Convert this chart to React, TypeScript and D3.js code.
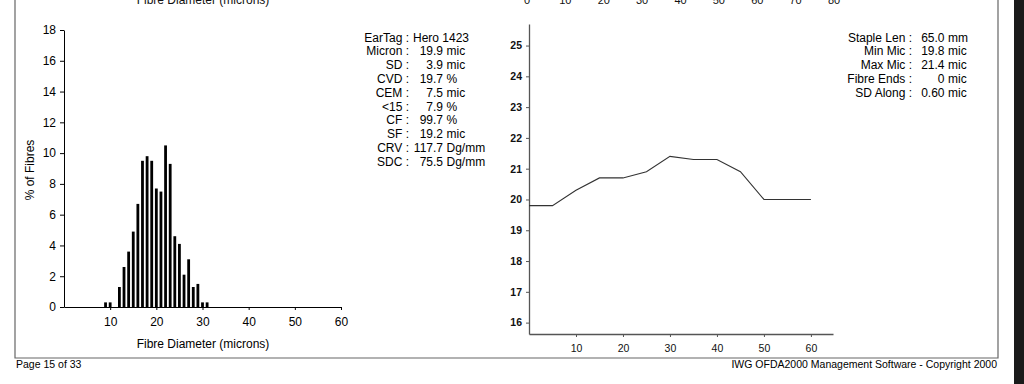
import { useEffect, useRef } from "react"
import * as d3 from "d3"

// histogram: % of fibres per micron class
const diameters = [9, 10, 12, 13, 14, 15, 16, 17, 18, 19, 20, 21, 22, 23, 24, 25, 26, 27, 28, 29, 30, 31]
const percentFibres = [0.3, 0.3, 1.3, 2.6, 3.6, 4.9, 6.7, 9.5, 9.8, 9.5, 7.7, 7.5, 10.5, 9.3, 4.6, 4.1, 2.1, 3.1, 1.3, 1.5, 0.3, 0.3]
const histXTicks = [10, 20, 30, 40, 50, 60]
const histYTicks = [0, 2, 4, 6, 8, 10, 12, 14, 16, 18]

// profile along the staple
const positions = [0, 5, 10, 15, 20, 25, 30, 35, 40, 45, 50, 55, 60]
const micronAlong = [19.8, 19.8, 20.3, 20.7, 20.7, 20.9, 21.4, 21.3, 21.3, 20.9, 20.0, 20.0, 20.0]
const lineXTicks = [10, 20, 30, 40, 50, 60]
const lineYTicks = [16, 17, 18, 19, 20, 21, 22, 23, 24, 25]

// tick labels of the chart cut off at the top of the page
const prevXTicks = [0, 10, 20, 30, 40, 50, 60, 70, 80]

const statLabels = ["EarTag", "Micron", "SD", "CVD", "CEM", "<15", "CF", "SF", "CRV", "SDC"]
const statNumbers = ["Hero 1423", "19.9", "3.9", "19.7", "7.5", "7.9", "99.7", "19.2", "117.7", "75.5"]
const statUnits = ["", "mic", "mic", "%", "mic", "%", "%", "mic", "Dg/mm", "Dg/mm"]

const alongLabels = ["Staple Len", "Min Mic", "Max Mic", "Fibre Ends", "SD Along"]
const alongNumbers = ["65.0", "19.8", "21.4", "0", "0.60"]
const alongUnits = ["mm", "mic", "mic", "mic", "mic"]

const FONT = "'Liberation Sans', Arial, sans-serif"

export default function App() {
  const svgRef = useRef<SVGSVGElement>(null)

  useEffect(() => {
    document.body.style.margin = "0"
    if (!svgRef.current) return
    const svg = d3.select(svgRef.current)
    svg.selectAll("*").remove()
    svg.attr("font-family", FONT)

    // page frame
    svg.append("path")
      .attr("d", "M15,0 V358 H998 V0")
      .attr("fill", "none")
      .attr("stroke", "#666")
      .attr("stroke-width", 1.2)
    svg.append("rect").attr("x", 1014).attr("y", 0).attr("width", 10).attr("height", 384).attr("fill", "#1a1a1a")

    // remains of the chart above
    const xPrev = d3.scaleLinear().domain([0, 80]).range([527, 834])
    svg.append("g")
      .selectAll("text")
      .data(prevXTicks)
      .enter()
      .append("text")
      .attr("x", (d) => xPrev(d))
      .attr("y", 4)
      .attr("text-anchor", "middle")
      .attr("font-size", "11px")
      .attr("fill", "#111")
      .text((d) => d)
    svg.append("text")
      .attr("x", 203).attr("y", 4)
      .attr("text-anchor", "middle")
      .attr("font-size", "12px")
      .attr("fill", "#111")
      .text("Fibre Diameter (microns)")

    // ---- histogram
    const x = d3.scaleLinear().domain([0, 60]).range([64, 341])
    const y = d3.scaleLinear().domain([0, 18]).range([307, 30])
    const hist = svg.append("g")

    hist.selectAll("rect")
      .data(diameters)
      .enter()
      .append("rect")
      .attr("x", (d) => x(d) - 1.4)
      .attr("width", 2.8)
      .attr("y", (d, i) => y(percentFibres[i]))
      .attr("height", (d, i) => y(0) - y(percentFibres[i]))
      .attr("fill", "#000")

    const hx = hist.append("g")
      .attr("transform", `translate(0,${y(0)})`)
      .call(d3.axisBottom(x).tickValues(histXTicks).tickSize(3).tickSizeOuter(0))
    const hy = hist.append("g")
      .attr("transform", `translate(${x(0)},0)`)
      .call(d3.axisLeft(y).tickValues(histYTicks).tickSize(4).tickSizeOuter(0))
    ;[hx, hy].forEach((g) => {
      g.select(".domain").attr("stroke", "#000")
      g.selectAll("line").attr("stroke", "#000")
      g.selectAll("text").attr("font-size", "12px").attr("font-family", FONT).attr("fill", "#000")
    })
    hx.selectAll("text").attr("dy", "1.1em")
    hy.selectAll("text").attr("dx", "-1px")

    hist.append("text")
      .attr("x", 203).attr("y", 348)
      .attr("text-anchor", "middle")
      .attr("font-size", "12px")
      .text("Fibre Diameter (microns)")
    hist.append("text")
      .attr("transform", "translate(34,170) rotate(-90)")
      .attr("text-anchor", "middle")
      .attr("font-size", "12px")
      .text("% of Fibres")

    // ---- summary text
    const rowY = (i: number) => 41.5 + i * 13.8
    const stats = svg.append("g").attr("font-size", "12px").attr("fill", "#000")
    statLabels.forEach((lab, i) => {
      stats.append("text").attr("x", 409).attr("y", rowY(i)).attr("text-anchor", "end").text(`${lab} :`)
      if (i === 0) {
        stats.append("text").attr("x", 413).attr("y", rowY(i)).text(statNumbers[i])
      } else {
        stats.append("text").attr("x", 443).attr("y", rowY(i)).attr("text-anchor", "end").text(statNumbers[i])
        stats.append("text").attr("x", 446.5).attr("y", rowY(i)).text(statUnits[i])
      }
    })
    alongLabels.forEach((lab, i) => {
      stats.append("text").attr("x", 912).attr("y", rowY(i)).attr("text-anchor", "end").text(`${lab} :`)
      stats.append("text").attr("x", 944.5).attr("y", rowY(i)).attr("text-anchor", "end").text(alongNumbers[i])
      stats.append("text").attr("x", 948).attr("y", rowY(i)).text(alongUnits[i])
    })

    // ---- micron profile along staple
    const lx = d3.scaleLinear().domain([0, 64.7]).range([529, 833])
    const ly = d3.scaleLinear().domain([15.63, 25.7]).range([334, 24])
    const prof = svg.append("g")

    const px = prof.append("g")
      .attr("transform", `translate(0,${ly(15.63)})`)
      .call(d3.axisBottom(lx).tickValues(lineXTicks).tickSize(3).tickSizeOuter(0))
    const py = prof.append("g")
      .attr("transform", `translate(${lx(0)},0)`)
      .call(d3.axisLeft(ly).tickValues(lineYTicks).tickSize(3).tickSizeOuter(0))
    ;[px, py].forEach((g) => {
      g.select(".domain").attr("stroke", "#555").attr("stroke-width", 1.3)
      g.selectAll("line").attr("stroke", "#555")
      g.selectAll("text").attr("font-family", FONT).attr("fill", "#111")
    })
    px.selectAll("text").attr("font-size", "10.5px").attr("dy", "1.15em")
    py.selectAll("text").attr("font-size", "10.5px").attr("font-weight", "bold").attr("dx", "-1px")

    const line = d3.line<number>()
      .x((d, i) => lx(positions[i]))
      .y((d) => ly(d))
    prof.append("path")
      .datum(micronAlong)
      .attr("d", line)
      .attr("fill", "none")
      .attr("stroke", "#333")
      .attr("stroke-width", 1.1)

    // ---- footer
    svg.append("text").attr("x", 16).attr("y", 368).attr("font-size", "10.5px").text("Page 15 of 33")
    svg.append("text")
      .attr("x", 997).attr("y", 368)
      .attr("text-anchor", "end")
      .attr("font-size", "10.5px")
      .text("IWG OFDA2000 Management Software - Copyright 2000")
  }, [])

  return <svg ref={svgRef} width={1024} height={384} style={{ display: "block", background: "#fff" }} />
}
